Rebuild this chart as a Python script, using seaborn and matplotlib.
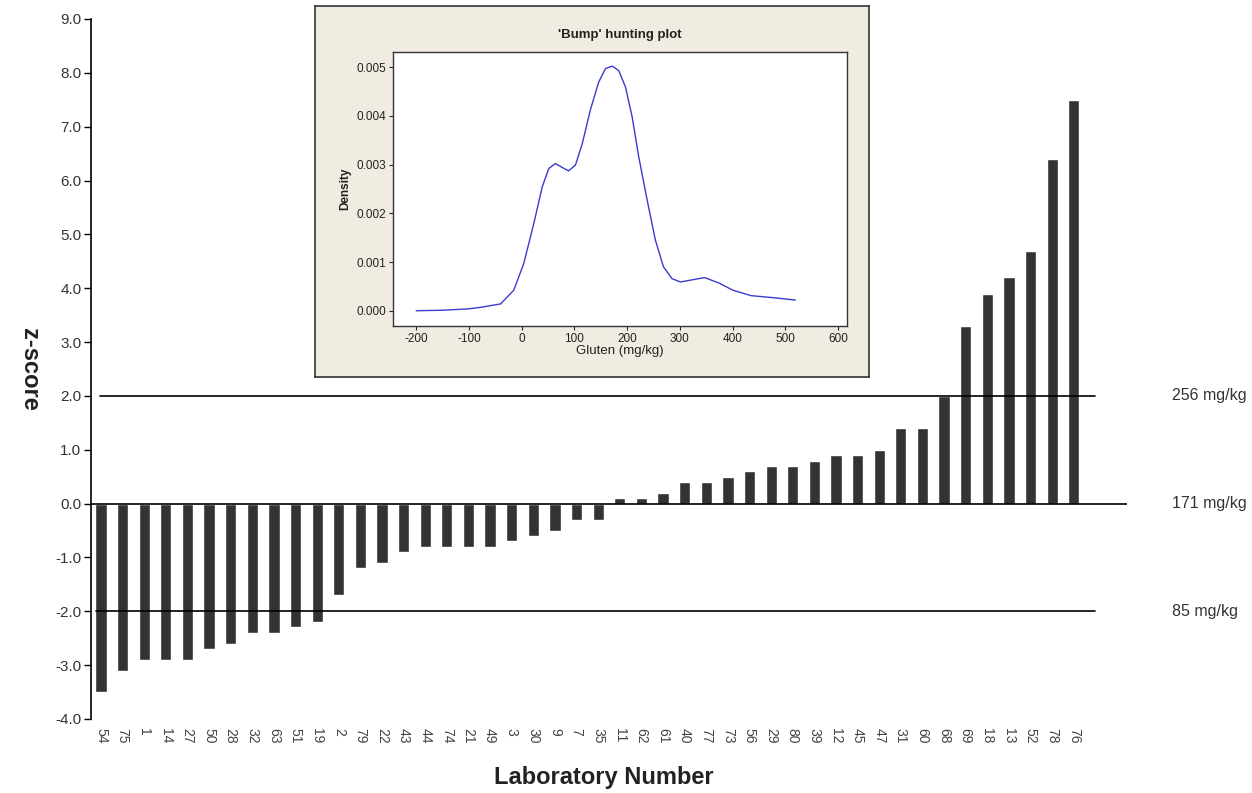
import pandas as pd
import seaborn as sns
import matplotlib.pyplot as plt

# Laboratory z-scores (sorted)
labs = ["54", "75", "1", "14", "27", "50", "28", "32", "63", "51", "19", "2", "79", "22",
        "43", "44", "74", "21", "49", "3", "30", "9", "7", "35", "11", "62", "61", "40",
        "77", "73", "56", "29", "80", "39", "12", "45", "47", "31", "60", "68", "69", "18",
        "13", "52", "78", "76"]
zscores = [-3.5, -3.1, -2.9, -2.9, -2.9, -2.7, -2.6, -2.4, -2.4, -2.3, -2.2, -1.7, -1.2, -1.1,
           -0.9, -0.8, -0.8, -0.8, -0.8, -0.7, -0.6, -0.5, -0.3, -0.3, 0.1, 0.1, 0.2, 0.4,
           0.4, 0.5, 0.6, 0.7, 0.7, 0.8, 0.9, 0.9, 1.0, 1.4, 1.4, 2.0, 3.3, 3.9,
           4.2, 4.7, 6.4, 7.5]

# reference levels
ref_z = [2.0, 0.0, -2.0]
ref_text = ["256 mg/kg", "171 mg/kg", "85 mg/kg"]

# 'Bump' hunting density curve
gluten = [-200, -150, -100, -78, -40, -15, 4, 23, 39, 51.5, 64, 77, 89, 102, 115, 130,
          146, 159, 171.6, 184, 197, 209.5, 222, 238, 253.6, 269, 285, 301, 326, 347,
          374, 401, 435, 475, 519]
density = [0.0, 0.00001, 0.00004, 0.00007, 0.00014, 0.00042, 0.00097, 0.00179, 0.00254,
           0.00292, 0.00302, 0.00294, 0.00287, 0.00299, 0.00343, 0.00411, 0.00469, 0.00497,
           0.00502, 0.00493, 0.00459, 0.00398, 0.00316, 0.00227, 0.00145, 0.0009, 0.00066,
           0.00059, 0.00064, 0.00068, 0.00057, 0.00042, 0.00031, 0.00027, 0.00022]

sns.set_style("white")
plt.rcParams['font.family'] = ['Liberation Sans', 'DejaVu Sans']
plt.rcParams['axes.unicode_minus'] = False

W, H = 1252, 793
fig = plt.figure(figsize=(W / 100, H / 100), dpi=100)

ax = fig.add_axes([91 / W, 1 - 719 / H, (1127 - 91) / W, 700 / H])
df = pd.DataFrame({"lab": labs, "z": zscores})
sns.barplot(data=df, x="lab", y="z", order=labs, color="#333333", saturation=1,
            width=0.52, ax=ax)
ax.set_xlim(-0.46, 47.46)
ax.set_ylim(-4, 9)
ax.set_yticks(range(-4, 10))
ax.set_yticklabels([f"{v:.1f}" for v in range(-4, 10)], fontsize=11, color="#333333")
ax.tick_params(axis="y", left=True, length=5, width=1, color="black", pad=2)
ax.tick_params(axis="x", bottom=False, labelsize=10, labelcolor="#444444", pad=3)
for lbl in ax.get_xticklabels():
    lbl.set_rotation(270)
for s in ["top", "right", "bottom"]:
    ax.spines[s].set_visible(False)
ax.spines["left"].set_color("black")
ax.spines["left"].set_linewidth(1.2)

ax.axhline(ref_z[0], xmin=0.009, xmax=0.969, color="black", lw=1.2)
ax.axhline(ref_z[1], xmin=0, xmax=1, color="black", lw=1.2)
ax.axhline(ref_z[2], xmin=0.005, xmax=0.969, color="black", lw=1.2)
for zv, t in zip(ref_z, ref_text):
    ax.annotate(t, xy=(1172 / W, zv), xycoords=("figure fraction", "data"),
                va="center", ha="left", fontsize=11.5, color="#333333")

ax.set_xlabel("Laboratory Number", fontsize=17, fontweight="bold", color="#222222")
ax.xaxis.set_label_coords((604 - 91) / 1036, -(766 - 719) / 700)
ax.set_ylabel("z-score", fontsize=17, fontweight="bold", color="#222222", rotation=270)
ax.yaxis.set_label_coords(-(91 - 18) / 1036, 0.5)

# inset frame
box = fig.add_axes([315 / W, 1 - 377 / H, 554 / W, 371 / H])
box.set_facecolor("#f0ece1")
box.set_xticks([])
box.set_yticks([])
for s in box.spines.values():
    s.set_color("#333333")
    s.set_linewidth(1.2)

ins = fig.add_axes([393 / W, 1 - 326 / H, 454 / W, 274 / H])
ins.set_facecolor("white")
sns.lineplot(x=gluten, y=density, ax=ins, color="#3a3ad0", lw=1)
ins.set_xlim(-244, 617)
ins.set_ylim(-0.000313, 0.00531)
ins.set_xticks(range(-200, 700, 100))
ins.set_yticks([0, 0.001, 0.002, 0.003, 0.004, 0.005])
ins.set_yticklabels(["0.000", "0.001", "0.002", "0.003", "0.004", "0.005"])
ins.tick_params(labelsize=8.5, length=3, width=0.8, left=True, bottom=True, pad=2,
                labelcolor="#222222")
for s in ins.spines.values():
    s.set_color("#333333")
    s.set_linewidth(1)
ins.set_xlabel("Gluten (mg/kg)", fontsize=9.5, labelpad=0, color="#222222")
ins.set_ylabel("Density", fontsize=8.5, fontweight="bold", labelpad=4, color="#222222")
ins.set_title("'Bump' hunting plot", fontsize=9.5, fontweight="bold", pad=10,
              color="#222222")

fig.savefig("out.png", dpi=100)
